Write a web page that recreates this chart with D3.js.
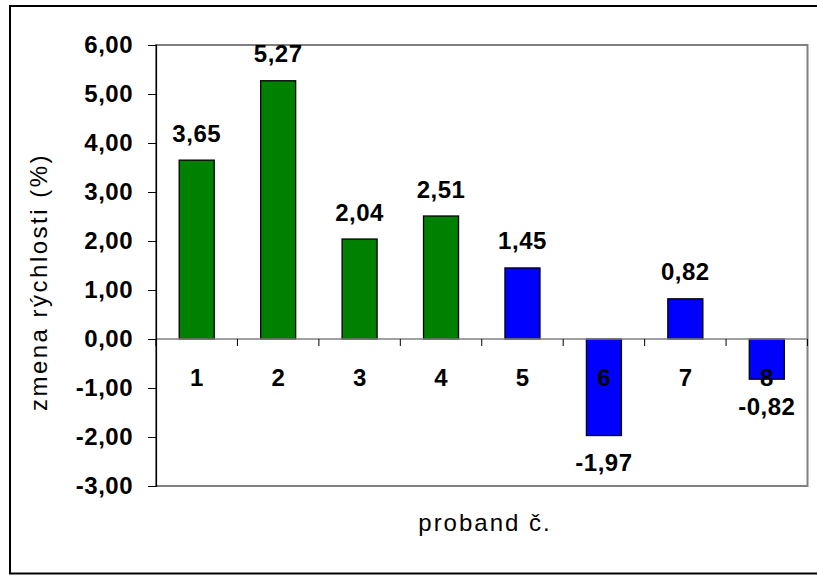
<!DOCTYPE html>
<html>
<head>
<meta charset="utf-8">
<script src="https://cdn.jsdelivr.net/npm/d3@7"></script>
<style>
  html, body { margin: 0; padding: 0; background: #fff; }
  svg { display: block; }
  text { font-family: "Liberation Sans", Arial, sans-serif; fill: #000; }
</style>
</head>
<body>
<svg id="chart" width="817" height="576"></svg>
<script>
// Speed change per test subject (%)
const subjects = ["1", "2", "3", "4", "5", "6", "7", "8"];
const speedChange = [3.65, 5.27, 2.04, 2.51, 1.45, -1.97, 0.82, -0.82];
const barColors = ["#008000", "#008000", "#008000", "#008000", "#0000FF", "#0000FF", "#0000FF", "#0000FF"];
const yTicks = [-3, -2, -1, 0, 1, 2, 3, 4, 5, 6];

const svg = d3.select("#chart");
const plot = { left: 156, right: 807.5, top: 45, bottom: 486 };

// Decimal comma, plain hyphen for negatives
const fmt = v => d3.format(".2f")(v).replace("−", "-").replace(".", ",");

// Outer frame
svg.append("rect")
  .attr("x", 10).attr("y", 6)
  .attr("width", 820).attr("height", 567.5)
  .attr("fill", "#fff").attr("stroke", "#000").attr("stroke-width", 2);

const x = d3.scaleBand().domain(subjects).range([plot.left, plot.right]).padding(0);
const y = d3.scaleLinear().domain([-3, 6]).range([plot.bottom, plot.top]);

// Plot area border (grey)
svg.append("rect")
  .attr("x", plot.left).attr("y", plot.top)
  .attr("width", plot.right - plot.left).attr("height", plot.bottom - plot.top)
  .attr("fill", "#fff").attr("stroke", "#808080").attr("stroke-width", 2);

// Bars
const barW = x.bandwidth() * 0.43;
svg.append("g").selectAll("rect")
  .data(speedChange)
  .join("rect")
  .attr("x", (d, i) => x(subjects[i]) + (x.bandwidth() - barW) / 2)
  .attr("y", d => y(Math.max(0, d)))
  .attr("width", barW)
  .attr("height", d => Math.abs(y(d) - y(0)))
  .attr("fill", (d, i) => barColors[i])
  .attr("stroke", "#000").attr("stroke-width", 1.3);

// Zero line with category tick marks
svg.append("line")
  .attr("x1", plot.left).attr("x2", plot.right)
  .attr("y1", y(0)).attr("y2", y(0))
  .attr("stroke", "#808080").attr("stroke-width", 1.5);
svg.append("g").selectAll("line")
  .data(subjects.map(s => x(s) + x.bandwidth()).concat([plot.left]))
  .join("line")
  .attr("x1", d => d).attr("x2", d => d)
  .attr("y1", y(0)).attr("y2", y(0) + 7)
  .attr("stroke", "#000").attr("stroke-width", 1);

// Y axis
const yAxis = d3.axisLeft(y).tickValues(yTicks).tickSize(8).tickFormat(fmt).tickPadding(15);
const gy = svg.append("g").attr("transform", `translate(${plot.left},0)`).call(yAxis);
gy.select(".domain").attr("stroke", "#000").attr("stroke-width", 1.2);
gy.selectAll(".tick line").attr("stroke", "#000");
gy.selectAll(".tick text")
  .style("font-family", "'Liberation Sans', Arial, sans-serif")
  .style("font-size", "24px").style("font-weight", "bold")
  .style("letter-spacing", "0.5px")
  .attr("fill", "#000");

// Category labels
svg.append("g").selectAll("text")
  .data(subjects)
  .join("text")
  .attr("x", d => x(d) + x.bandwidth() / 2)
  .attr("y", y(0) + 38)
  .attr("text-anchor", "middle").attr("dominant-baseline", "central")
  .style("font-size", "24px").style("font-weight", "bold")
  .text(d => d);

// Value labels
svg.append("g").selectAll("text")
  .data(speedChange)
  .join("text")
  .attr("x", (d, i) => x(subjects[i]) + x.bandwidth() / 2)
  .attr("y", d => d >= 0 ? y(d) - 27 : y(d) + 27)
  .attr("text-anchor", "middle").attr("dominant-baseline", "central")
  .style("font-size", "24px").style("font-weight", "bold")
  .style("letter-spacing", "0.5px")
  .text(fmt);

// Axis titles
svg.append("text")
  .attr("transform", `translate(38,282) rotate(-90)`)
  .attr("text-anchor", "middle").attr("dominant-baseline", "central")
  .style("font-size", "24px").style("letter-spacing", "2.5px")
  .text("zmena rýchlosti (%)");

svg.append("text")
  .attr("x", 485).attr("y", 522)
  .attr("text-anchor", "middle").attr("dominant-baseline", "central")
  .style("font-size", "24px").style("letter-spacing", "2px")
  .text("proband č.");
</script>
</body>
</html>
